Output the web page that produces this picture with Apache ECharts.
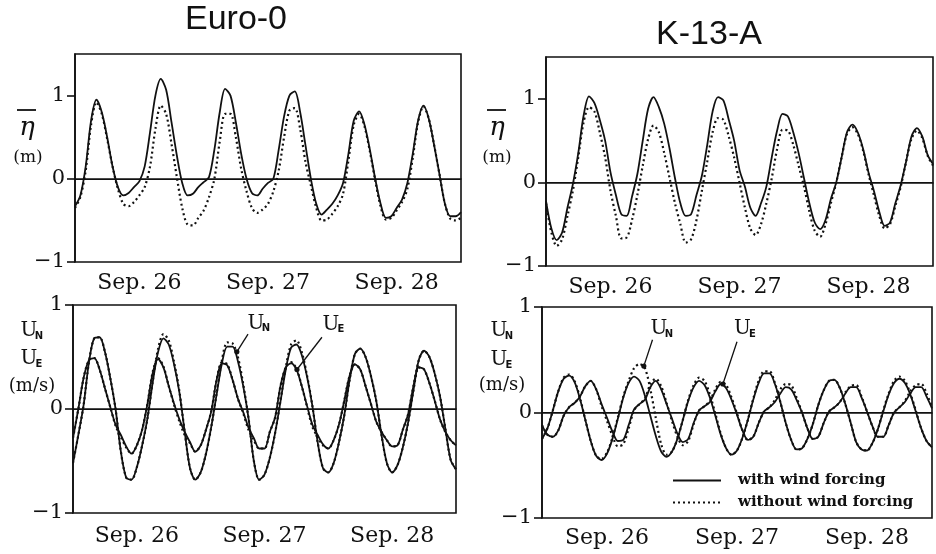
<!DOCTYPE html>
<html><head><meta charset="utf-8">
<script src="https://cdn.jsdelivr.net/npm/echarts@6/dist/echarts.min.js"></script>
<style>html,body{margin:0;padding:0;background:#fff}#c{width:936px;height:554px}</style>
</head><body><div id="c"></div>
<script>
// ---------- data (hourly samples from 00:00 Sep. 26, hours 0..72) ----------
const days = ['Sep. 26', 'Sep. 27', 'Sep. 28'];
const hours = Array.from({length: 73}, (_, i) => i);
const yTicks = [-1, 0, 1];

// Euro-0 : mean sea level (m)
const euroEtaWith = [
 -0.33,-0.2,0.15,0.7,0.95,0.8,0.5,0.15,-0.1,-0.2,
 -0.17,-0.1,-0.03,0.15,0.56,1.0,1.2,1.07,0.68,0.28,
 -0.05,-0.2,-0.18,-0.1,-0.04,0.02,0.35,0.8,1.08,1.0,
 0.68,0.3,0.0,-0.17,-0.2,-0.12,-0.05,0.0,0.35,0.75,
 1.0,1.05,0.8,0.4,0.0,-0.3,-0.43,-0.37,-0.3,-0.2,
 -0.05,0.3,0.7,0.81,0.65,0.35,0.0,-0.3,-0.47,-0.45,
 -0.35,-0.25,-0.05,0.3,0.7,0.88,0.72,0.4,0.05,-0.3,
 -0.45,-0.45,-0.4];
const euroEtaWithout = [
 -0.35,-0.22,0.1,0.65,0.92,0.78,0.48,0.15,-0.12,-0.3,
 -0.33,-0.28,-0.2,-0.1,0.15,0.6,0.88,0.78,0.42,0.02,
 -0.35,-0.55,-0.56,-0.47,-0.38,-0.22,0.0,0.45,0.78,0.78,
 0.5,0.12,-0.15,-0.35,-0.41,-0.37,-0.3,-0.15,0.1,0.5,
 0.82,0.85,0.6,0.2,-0.08,-0.35,-0.5,-0.49,-0.42,-0.33,
 -0.18,0.22,0.65,0.78,0.63,0.33,-0.02,-0.33,-0.49,-0.47,
 -0.38,-0.28,-0.12,0.25,0.68,0.87,0.72,0.4,0.05,-0.3,
 -0.48,-0.5,-0.47];

// K-13-A : mean sea level (m)
const k13EtaWith = [
 -0.22,-0.55,-0.69,-0.6,-0.3,-0.02,0.35,0.8,1.03,0.95,
 0.75,0.5,0.12,-0.15,-0.38,-0.4,-0.17,0.1,0.5,0.88,
 1.02,0.9,0.7,0.4,0.05,-0.25,-0.4,-0.38,-0.15,0.08,
 0.45,0.85,1.02,0.98,0.75,0.5,0.15,-0.05,-0.3,-0.4,
 -0.25,-0.05,0.3,0.62,0.82,0.79,0.6,0.35,0.05,-0.25,
 -0.48,-0.56,-0.45,-0.2,0.0,0.3,0.6,0.69,0.6,0.4,
 0.12,-0.1,-0.35,-0.52,-0.48,-0.25,-0.03,0.25,0.55,0.65,
 0.55,0.33,0.22];
const k13EtaWithout = [
 -0.25,-0.6,-0.76,-0.68,-0.4,-0.1,0.3,0.72,0.9,0.85,
 0.6,0.3,-0.1,-0.4,-0.67,-0.66,-0.45,-0.15,0.2,0.52,
 0.68,0.6,0.35,0.05,-0.25,-0.5,-0.72,-0.68,-0.45,-0.1,
 0.25,0.6,0.77,0.75,0.55,0.3,0.0,-0.3,-0.55,-0.63,
 -0.5,-0.25,0.05,0.4,0.63,0.62,0.45,0.2,-0.05,-0.35,
 -0.58,-0.65,-0.5,-0.25,0.0,0.3,0.58,0.66,0.58,0.38,
 0.1,-0.15,-0.4,-0.55,-0.5,-0.28,-0.05,0.25,0.52,0.62,
 0.53,0.32,0.2];

// Euro-0 : currents (m/s)
const euroUNWith = [
 -0.52,-0.25,0.04,0.45,0.68,0.69,0.55,0.3,0.0,-0.41,
 -0.66,-0.68,-0.56,-0.35,-0.09,0.26,0.55,0.68,0.62,0.43,
 0.16,-0.22,-0.57,-0.68,-0.61,-0.43,-0.17,0.14,0.44,0.6,
 0.6,0.46,0.22,-0.09,-0.5,-0.68,-0.63,-0.47,-0.23,0.07,
 0.38,0.59,0.62,0.52,0.31,0.03,-0.32,-0.57,-0.61,-0.52,
 -0.32,-0.06,0.28,0.53,0.58,0.5,0.32,0.08,-0.25,-0.52,
 -0.61,-0.54,-0.37,-0.13,0.18,0.47,0.56,0.5,0.34,0.12,
 -0.19,-0.49,-0.58];
const euroUNWithout = [
 -0.52,-0.25,0.04,0.45,0.68,0.69,0.55,0.3,0.0,-0.41,
 -0.66,-0.68,-0.56,-0.35,-0.09,0.27,0.58,0.72,0.66,0.45,
 0.17,-0.22,-0.57,-0.68,-0.61,-0.43,-0.17,0.15,0.47,0.64,
 0.63,0.5,0.24,-0.09,-0.5,-0.68,-0.63,-0.47,-0.23,0.08,
 0.4,0.62,0.66,0.55,0.32,0.03,-0.32,-0.57,-0.61,-0.52,
 -0.32,-0.06,0.28,0.53,0.58,0.5,0.32,0.08,-0.25,-0.52,
 -0.61,-0.54,-0.37,-0.13,0.18,0.47,0.56,0.5,0.34,0.12,
 -0.19,-0.49,-0.58];
const euroUEWith = [
 -0.28,0.0,0.3,0.47,0.49,0.38,0.2,0.02,-0.15,-0.25,
 -0.36,-0.43,-0.35,-0.2,0.05,0.35,0.48,0.4,0.22,0.05,
 -0.1,-0.22,-0.32,-0.41,-0.35,-0.2,-0.02,0.28,0.44,0.42,
 0.28,0.1,-0.03,-0.18,-0.28,-0.38,-0.38,-0.22,-0.08,0.22,
 0.4,0.44,0.38,0.22,0.03,-0.15,-0.25,-0.34,-0.38,-0.3,
 -0.15,0.08,0.32,0.43,0.38,0.22,0.05,-0.12,-0.22,-0.3,
 -0.36,-0.35,-0.2,-0.05,0.22,0.4,0.38,0.25,0.08,-0.1,
 -0.22,-0.3,-0.35];
const euroUEWithout = [
 -0.28,0.0,0.3,0.47,0.49,0.38,0.2,0.02,-0.16,-0.27,
 -0.37,-0.43,-0.35,-0.2,0.05,0.36,0.49,0.41,0.22,0.04,
 -0.12,-0.25,-0.33,-0.41,-0.35,-0.2,-0.02,0.28,0.45,0.43,
 0.28,0.1,-0.04,-0.2,-0.3,-0.38,-0.38,-0.22,-0.08,0.22,
 0.4,0.45,0.39,0.22,0.02,-0.17,-0.27,-0.35,-0.38,-0.3,
 -0.15,0.08,0.32,0.43,0.38,0.22,0.05,-0.12,-0.22,-0.3,
 -0.36,-0.35,-0.2,-0.05,0.22,0.4,0.38,0.25,0.08,-0.1,
 -0.22,-0.3,-0.35];

// K-13-A : currents (m/s)
const k13UNWith = [
 -0.25,-0.15,0.02,0.2,0.32,0.35,0.29,0.13,-0.07,-0.27,
 -0.41,-0.45,-0.39,-0.25,-0.06,0.14,0.28,0.34,0.3,0.16,
 -0.03,-0.22,-0.37,-0.42,-0.37,-0.25,-0.07,0.11,0.24,0.3,
 0.26,0.14,-0.03,-0.21,-0.34,-0.4,-0.36,-0.24,-0.07,0.12,
 0.28,0.37,0.37,0.27,0.1,-0.1,-0.26,-0.35,-0.34,-0.25,
 -0.11,0.07,0.21,0.3,0.31,0.23,0.08,-0.1,-0.28,-0.35,
 -0.36,-0.29,-0.16,0.01,0.17,0.28,0.32,0.28,0.17,0.01,
 -0.15,-0.27,-0.33];
const k13UNWithout = [
 -0.25,-0.15,0.02,0.2,0.33,0.36,0.3,0.14,-0.07,-0.27,
 -0.41,-0.44,-0.38,-0.24,-0.05,0.15,0.3,0.42,0.46,0.42,
 0.22,-0.05,-0.3,-0.4,-0.37,-0.25,-0.07,0.12,0.26,0.33,
 0.3,0.17,-0.01,-0.2,-0.34,-0.4,-0.36,-0.24,-0.07,0.13,
 0.3,0.39,0.39,0.28,0.1,-0.1,-0.26,-0.35,-0.34,-0.25,
 -0.11,0.07,0.21,0.3,0.31,0.23,0.08,-0.1,-0.28,-0.35,
 -0.36,-0.29,-0.16,0.02,0.18,0.3,0.34,0.3,0.18,0.02,
 -0.15,-0.27,-0.33];
const k13UEWith = [
 -0.12,-0.21,-0.23,-0.17,-0.03,0.05,0.09,0.15,0.25,0.3,
 0.22,0.08,-0.05,-0.18,-0.27,-0.26,-0.12,0.03,0.08,0.12,
 0.24,0.3,0.22,0.08,-0.06,-0.2,-0.28,-0.25,-0.1,0.02,
 0.06,0.1,0.2,0.27,0.23,0.12,-0.02,-0.17,-0.26,-0.23,
 -0.1,0.01,0.05,0.1,0.18,0.24,0.22,0.12,0.0,-0.15,
 -0.25,-0.23,-0.1,0.01,0.05,0.1,0.18,0.24,0.24,0.14,
 0.01,-0.13,-0.23,-0.23,-0.12,0.0,0.05,0.1,0.18,0.24,
 0.24,0.15,0.04];
const k13UEWithout = [
 -0.12,-0.21,-0.23,-0.17,-0.03,0.05,0.09,0.15,0.25,0.3,
 0.22,0.06,-0.08,-0.22,-0.32,-0.3,-0.15,0.02,0.08,0.13,
 0.27,0.32,0.25,0.09,-0.08,-0.23,-0.31,-0.27,-0.11,0.02,
 0.06,0.11,0.22,0.29,0.26,0.14,-0.01,-0.17,-0.26,-0.23,
 -0.1,0.01,0.05,0.12,0.22,0.27,0.26,0.14,0.0,-0.15,
 -0.25,-0.23,-0.1,0.01,0.05,0.1,0.19,0.25,0.26,0.15,
 0.01,-0.13,-0.23,-0.23,-0.12,0.0,0.05,0.11,0.2,0.26,
 0.27,0.18,0.05];

// ---------- chart ----------
const WITH = 'with wind forcing', WITHOUT = 'without wind forcing';
const INK = '#111';
const serif = '"DejaVu Serif", "Liberation Serif", serif';

const grids = [
  {left: 75, top: 54, width: 386, height: 208},
  {left: 546, top: 57, width: 387, height: 209},
  {left: 73, top: 305, width: 383, height: 208},
  {left: 542, top: 307, width: 390, height: 211}
];
const yMax = [1.5, 1.5, 1, 1];
const tickLen = [18, 18, 16, 16];
const labelMargin = [10, 10, 12, 9];

const xAxes = [], yAxes = [];
grids.forEach((g, i) => {
  xAxes.push({
    type: 'category', gridIndex: i, data: days, boundaryGap: true, position: 'bottom',
    axisLine: {lineStyle: {color: INK, width: 1.6}},
    axisTick: {length: tickLen[i], lineStyle: {color: INK, width: 2}},
    axisLabel: {color: INK, fontFamily: serif, fontSize: 22, margin: labelMargin[i]},
    splitLine: {show: false}
  });
  xAxes.push({type: 'value', gridIndex: i, min: 0, max: 72, show: false});
  yAxes.push({
    type: 'value', gridIndex: i, min: -1, max: yMax[i], interval: 1,
    axisLine: {show: true, lineStyle: {color: INK, width: 1.6}},
    axisTick: {show: true, customValues: yTicks, length: 8, lineStyle: {color: INK, width: 1.6}},
    axisLabel: {customValues: yTicks, color: INK, fontFamily: serif, fontSize: 21, margin: 10,
      formatter: v => (v < 0 ? '\u2212' + Math.abs(v) : String(v))},
    splitLine: {show: false}
  });
});

function mk(name, arr, gi, dotted, zeroLine) {
  const s = {
    name, type: 'line', xAxisIndex: 2 * gi + 1, yAxisIndex: gi,
    data: hours.map((h, k) => [h, arr[k]]),
    symbol: 'none', smooth: 0.3, silent: true,
    itemStyle: {color: INK},
    lineStyle: dotted ? {color: INK, width: 2.2, type: [2, 3]} : {color: INK, width: 1.8}
  };
  if (zeroLine) s.markLine = {silent: true, symbol: 'none', label: {show: false},
    lineStyle: {color: INK, width: 1, type: 'solid'}, data: [{yAxis: 0}]};
  return s;
}

const series = [
  mk(WITHOUT, euroEtaWithout, 0, true, true),
  mk(WITH, euroEtaWith, 0, false),
  mk(WITHOUT, k13EtaWithout, 1, true, true),
  mk(WITH, k13EtaWith, 1, false),
  mk(WITHOUT, euroUNWithout, 2, true, true),
  mk(WITHOUT, euroUEWithout, 2, true),
  mk(WITH, euroUNWith, 2, false),
  mk(WITH, euroUEWith, 2, false),
  mk(WITHOUT, k13UNWithout, 3, true, true),
  mk(WITHOUT, k13UEWithout, 3, true),
  mk(WITH, k13UNWith, 3, false),
  mk(WITH, k13UEWith, 3, false)
];

function txt(text, x, y, font, align) {
  return {type: 'text', silent: true, style: {text, x, y, font, fill: INK, align: align || 'center', verticalAlign: 'middle'}};
}
function bar(x1, x2, y) {
  return {type: 'line', silent: true, shape: {x1, y1: y, x2, y2: y}, style: {stroke: INK, lineWidth: 1.8}};
}
const uFont = '20px ' + serif, subFont = 'bold 10px "DejaVu Sans", sans-serif';
const titleFont = '34px "Liberation Sans", Arial, sans-serif';
const baseGraphics = [
  txt('Euro-0', 236, 20, titleFont),
  txt('K-13-A', 709, 35, titleFont),
  bar(17, 36, 110), txt('\u03b7', 27, 128, 'italic 26px ' + serif), txt('(m)', 28, 158, '17px ' + serif),
  bar(487, 506, 110), txt('\u03b7', 497, 128, 'italic 26px ' + serif), txt('(m)', 497, 158, '17px ' + serif),
  txt('U', 29, 331, uFont), txt('N', 39, 336, subFont),
  txt('U', 29, 359, uFont), txt('E', 39, 364, subFont),
  txt('(m/s)', 32, 386, '18px ' + serif),
  txt('U', 499, 331, uFont), txt('N', 509, 336, subFont),
  txt('U', 499, 360, uFont), txt('E', 509, 365, subFont),
  txt('(m/s)', 502, 385, '18px ' + serif)
];

const chart = echarts.init(document.getElementById('c'), null, {renderer: 'canvas'});
chart.setOption({
  animation: false,
  backgroundColor: '#fff',
  grid: grids.map(g => Object.assign({show: true, borderColor: INK, borderWidth: 1.6, backgroundColor: 'transparent'}, g)),
  xAxis: xAxes,
  yAxis: yAxes,
  legend: {
    data: [WITH, WITHOUT], orient: 'vertical', left: 667, top: 468,
    itemWidth: 48, itemHeight: 12, itemGap: 7, selectedMode: false,
    itemStyle: {opacity: 0},
    textStyle: {fontFamily: serif, fontWeight: 'bold', fontSize: 15, color: INK, padding: [0, 0, 0, 12]}
  },
  series,
  graphic: baseGraphics
});

// annotations (U_N / U_E leaders) anchored in data coordinates
const ann = [
  {s: 6, label: [34.4, 0.82], sub: 'N', from: [32.9, 0.72], to: [30.8, 0.55]},
  {s: 7, label: [48.5, 0.81], sub: 'E', from: [46.8, 0.69], to: [42.1, 0.38]},
  {s: 10, label: [21.6, 0.79], sub: 'N', from: [20.4, 0.69], to: [18.8, 0.44]},
  {s: 11, label: [37.0, 0.79], sub: 'E', from: [36.0, 0.67], to: [33.4, 0.27]}
];
const extra = [];
ann.forEach(a => {
  const L = chart.convertToPixel({seriesIndex: a.s}, a.label);
  const F = chart.convertToPixel({seriesIndex: a.s}, a.from);
  const T = chart.convertToPixel({seriesIndex: a.s}, a.to);
  extra.push(txt('U', L[0], L[1], uFont));
  extra.push(txt(a.sub, L[0] + 10, L[1] + 5, subFont));
  extra.push({type: 'line', silent: true, shape: {x1: F[0], y1: F[1], x2: T[0], y2: T[1]}, style: {stroke: INK, lineWidth: 1.3}});
  extra.push({type: 'circle', silent: true, shape: {cx: T[0], cy: T[1], r: 2.6}, style: {fill: INK}});
});
chart.setOption({graphic: baseGraphics.concat(extra)});
</script>
</body></html>
